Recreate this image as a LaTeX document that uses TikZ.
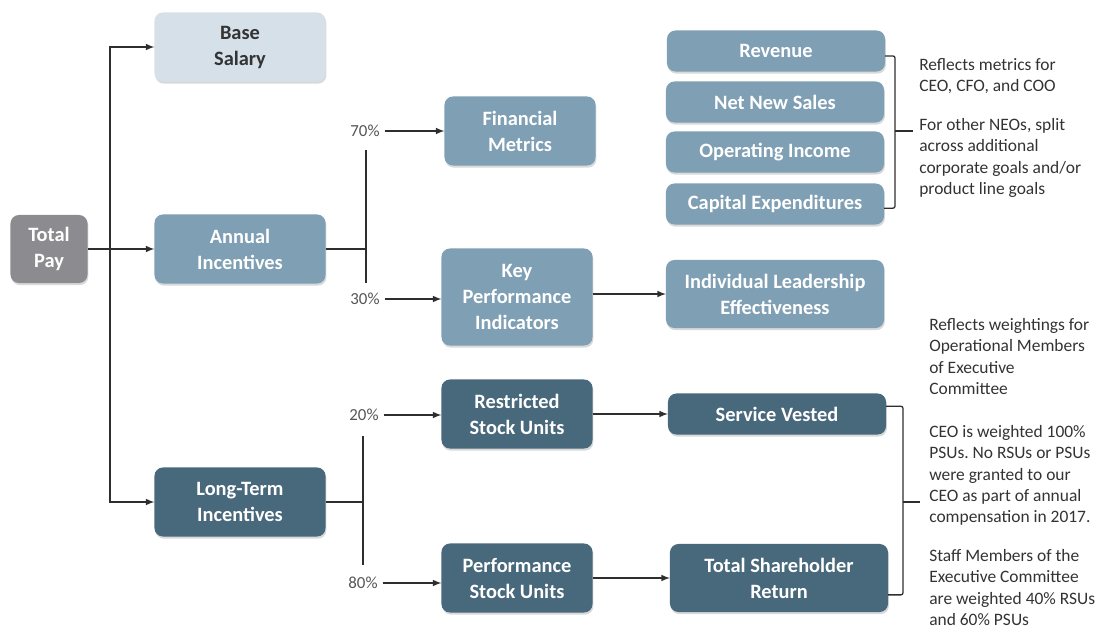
\documentclass[tikz,border=0pt]{standalone}
\usepackage{fontspec}
\setmainfont{Carlito}
\frenchspacing
\usetikzlibrary{
  calc,
  shadows
}
\definecolor{paygray}{HTML}{8C8C90}
\definecolor{paylight}{HTML}{D5E0E9}
\definecolor{paymid}{HTML}{7F9FB4}
\definecolor{paydark}{HTML}{48687C}
\definecolor{payline}{HTML}{2E2E2E}
\definecolor{paytext}{HTML}{555555}
\definecolor{notetext}{HTML}{333333}
\tikzset{
  % For all rounded boxes.
  box/.style={
    rounded corners=6pt,
    inner sep=0pt,
    outer sep=0pt,
    align=center,
    font={\fontsize{14.5}{18.5}\selectfont\bfseries},
    text=white,
    drop shadow={shadow xshift=0.6pt, shadow yshift=-1.5pt, opacity=0.3}},
%
  % Fill colours of the boxes.
  gray box/.style={box, fill=paygray},
  light box/.style={box, fill=paylight, text=notetext},
  mid box/.style={box, fill=paymid},
  dark box/.style={box, fill=paydark},
%
  % Box sizes per column.
  first col/.style={minimum width=4.275cm, minimum height=1.725cm},
  second col/.style={minimum width=3.775cm, minimum height=1.725cm},
  third col/.style={minimum width=5.45cm, minimum height=1.025cm},
%
  % For plain lines and arrows.
  line/.style={
    line width=1.1pt,
    draw=payline},
  link/.style={
    line,
    -latex},
%
  % For square brackets with a tip.
  brace/.style={
    line width=0.9pt,
    draw=payline,
    rounded corners=1.5pt},
%
  % For percentages.
  pct/.style={
    font={\fontsize{12}{14}\selectfont},
    text=paytext},
%
  % For side notes.
  note/.style={
    font={\fontsize{12.4}{15.2}\selectfont},
    align=left,
    anchor=north west,
    inner sep=0pt,
    text=notetext}
}

\begin{document}
\begin{tikzpicture}[x=0.025cm, y=-0.025cm]
  \useasboundingbox (0,0) rectangle (1105,631);

  % Left column.
  \node[gray box, minimum width=1.925cm, minimum height=1.7cm] (total) at (49,249) {Total\\Pay};
  \node[light box, first col] (base) at (240,47) {Base\\Salary};
  \node[mid box, first col] (annual) at (240,249) {Annual\\Incentives};
  \node[dark box, first col] (long) at (240,502) {Long-Term\\Incentives};

  \coordinate (split) at (110,249);
  \draw[link] (total) -- (annual);
  \draw[link] (split) |- (base);
  \draw[link] (split) |- (long);

  % Annual incentives.
  \coordinate (fork a) at (366,249);
  \coordinate (fork a top) at (366,150);
  \coordinate (fork a bottom) at (366,283);
  \draw[line] (annual) -- (fork a);
  \draw[line] (fork a top) -- (fork a bottom);

  \node[pct] (p70) at (365,131) {70\%};
  \node[pct] (p30) at (365,299) {30\%};
  \node[mid box, second col] (fin) at (520,131) {Financial\\Metrics};
  \node[mid box, second col, minimum height=2.425cm] (kpi) at (517,297) {Key\\Performance\\Indicators};
  \draw[link] (p70) -- (p70 -| fin.west);
  \draw[link] (p30) -- (p30 -| kpi.west);

  \node[mid box, third col] (rev) at (776,51) {Revenue};
  \node[mid box, third col] (nns) at (775,102) {Net New Sales};
  \node[mid box, third col] (opinc) at (775,152) {Operating Income};
  \node[mid box, third col] (capex) at (775,204) {Capital Expenditures};
  \node[mid box, third col, minimum height=1.7cm] (ile) at (775,294) {Individual Leadership\\Effectiveness};
  \draw[link] (kpi.east |- ile) -- (ile);

  % Long-term incentives.
  \coordinate (fork b) at (363,502);
  \coordinate (fork b top) at (363,436);
  \coordinate (fork b bottom) at (363,565);
  \draw[line] (long) -- (fork b);
  \draw[line] (fork b top) -- (fork b bottom);

  \node[pct] (p20) at (364,415) {20\%};
  \node[pct] (p80) at (363,583) {80\%};
  \node[dark box, second col] (rsu) at (517,414) {Restricted\\Stock Units};
  \node[dark box, second col] (psu) at (517,578) {Performance\\Stock Units};
  \draw[link] (p20) -- (p20 -| rsu.west);
  \draw[link] (p80) -- (p80 -| psu.west);

  \node[dark box, third col] (sv) at (777,414) {Service Vested};
  \node[dark box, third col, minimum height=1.7cm] (tsr) at (779,578) {Total Shareholder\\Return};
  \draw[link] (rsu) -- (sv);
  \draw[link] (psu) -- (tsr);

  % Brackets.
  \coordinate (brace a) at (895,131);
  \draw[brace] ([yshift=-3.5pt]rev.east) -| (brace a) |- ([yshift=-3pt]capex.east);
  \draw[brace] (brace a) -- ++(18,0);

  \coordinate (brace b) at (903,502);
  \draw[brace] ([yshift=5.5pt]sv.east) -| (brace b) |- ([yshift=-12pt]tsr.east);
  \draw[brace] (brace b) -- ++(17,0);

  % Notes.
  \node[note] (note fin) at (919,58) {Reflects metrics for\\CEO, CFO, and COO};
  \node[note] (note neo) at (919,118) {For other NEOs, split\\across additional\\corporate goals and/or\\product line goals};
  \node[note] (note ops) at (929,318) {Reflects weightings for\\Operational Members\\of Executive\\Committee};
  \node[note] (note ceo) at (929,425) {CEO is weighted 100\%\\PSUs. No RSUs or PSUs\\were granted to our\\CEO as part of annual\\compensation in 2017.};
  \node[note] (note staff) at (929,549) {Staff Members of the\\Executive Committee\\are weighted 40\% RSUs\\and 60\% PSUs};
\end{tikzpicture}
\end{document}
